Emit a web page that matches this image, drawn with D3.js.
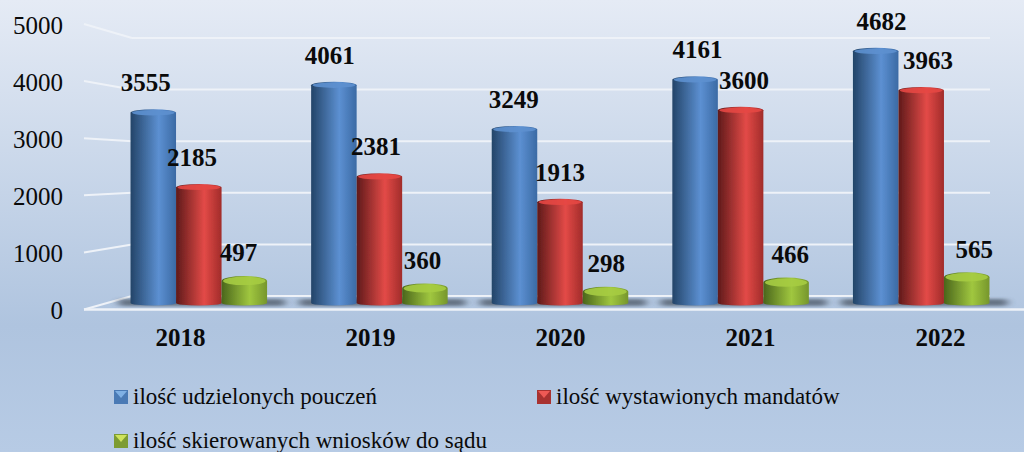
<!DOCTYPE html>
<html>
<head>
<meta charset="utf-8">
<script src="https://cdn.jsdelivr.net/npm/d3@7"></script>
<style>
  html, body { margin: 0; padding: 0; background: #b4c9e3; }
  svg { display: block; }
  text { font-family: "Liberation Serif", serif; fill: #0a0a0a; }
</style>
</head>
<body>
<svg width="1024" height="452"></svg>
<script>
const years = ["2018", "2019", "2020", "2021", "2022"];
const seriesNames = ["ilość udzielonych pouczeń", "ilość wystawionych mandatów", "ilość skierowanych wniosków do sądu"];
const pouczenia = [3555, 4061, 3249, 4161, 4682];
const mandaty = [2185, 2381, 1913, 3600, 3963];
const wnioski = [497, 360, 298, 466, 565];
const yTicks = [0, 1000, 2000, 3000, 4000, 5000];

const svg = d3.select("svg"),
    width = +svg.attr("width"),
    height = +svg.attr("height");

const seriesValues = [pouczenia, mandaty, wnioski];

// colours of the cylinders: edge, highlight, far edge, cap
const palette = [
  { dark: "#234468", light: "#5c90d2", edge: "#3b6aa4", cap: "#5d90cf", sw: "#4a7ab5", swTop: "#7fb0e4" },
  { dark: "#5e1a1a", light: "#e34a47", edge: "#a12c2a", cap: "#e54744", sw: "#a83230", swTop: "#ee5a55" },
  { dark: "#4a661c", light: "#a0c73f", edge: "#76962c", cap: "#a6cc42", sw: "#7d9c32", swTop: "#cfe35c" }
];

const defs = svg.append("defs");

const bg = defs.append("linearGradient").attr("id", "bg").attr("x1", 0).attr("y1", 0).attr("x2", 0).attr("y2", 1);
bg.append("stop").attr("offset", "0%").attr("stop-color", "#e5ebf5");
bg.append("stop").attr("offset", "72%").attr("stop-color", "#afc4df");
bg.append("stop").attr("offset", "100%").attr("stop-color", "#b7cbe5");

palette.forEach(function (p, i) {
  const g = defs.append("linearGradient").attr("id", "bar" + i);
  g.append("stop").attr("offset", "0%").attr("stop-color", p.dark);
  g.append("stop").attr("offset", "62%").attr("stop-color", p.light);
  g.append("stop").attr("offset", "100%").attr("stop-color", p.edge);
});

defs.append("filter").attr("id", "blur").attr("x", "-20%").attr("y", "-100%").attr("width", "140%").attr("height", "300%")
  .append("feGaussianBlur").attr("stdDeviation", "4 1.6");
defs.append("filter").attr("id", "soft").append("feGaussianBlur").attr("stdDeviation", 0.5);

svg.append("rect").attr("width", width).attr("height", height).attr("fill", "url(#bg)");

// scales: back wall, side wall and the bars sit at different depths
const yBack = d3.scaleLinear().domain([0, 5000]).range([296, 38]);
const ySide = d3.scaleLinear().domain([0, 5000]).range([309.5, 24]);
const yBar = d3.scaleLinear().domain([0, 5000]).range([303, 30.5]);

const x0 = d3.scaleBand().domain(years).range([108.5, 1011.5]).paddingInner(0.244).paddingOuter(0.122);
const x1 = d3.scaleBand().domain(d3.range(3)).range([0, x0.bandwidth()]);
const xLabel = d3.scalePoint().domain(years).range([180, 940]);

// walls
const sideX = 84, backX = 132, backEnd = 990;
const grid = svg.append("g").attr("stroke", "#eef2f8").attr("stroke-width", 2).attr("fill", "none");
grid.selectAll("line.back")
  .data(yTicks)
  .join("line")
    .attr("x1", backX).attr("x2", backEnd)
    .attr("y1", d => yBack(d)).attr("y2", d => yBack(d));
grid.selectAll("path.side")
  .data(yTicks)
  .join("path")
    .attr("class", "side")
    .attr("d", d => `M${sideX},${ySide(d)}L${backX},${yBack(d)}`);
// front edge of the floor
grid.append("line")
  .attr("x1", sideX).attr("x2", width)
  .attr("y1", ySide(0)).attr("y2", ySide(0))
  .attr("stroke-width", 2.4);

// y axis
const yAxis = svg.append("g")
  .attr("transform", "translate(63,1)")
  .call(d3.axisLeft(ySide).tickValues(yTicks).tickFormat(d3.format("d")).tickSize(0).tickPadding(0));
yAxis.select(".domain").remove();
yAxis.selectAll("text").style("font-size", "25px").attr("dy", "0.32em");

// x axis
const xAxis = svg.append("g")
  .attr("transform", "translate(0,326)")
  .call(d3.axisBottom(xLabel).tickSize(0).tickPadding(0));
xAxis.select(".domain").remove();
xAxis.selectAll("text").style("font-size", "25px").style("font-weight", "bold").attr("dy", "0.8em");

// shadows on the floor
svg.append("g").selectAll("rect")
  .data(years)
  .join("rect")
    .attr("x", d => x0(d) - 12)
    .attr("width", x0.bandwidth() + 30)
    .attr("y", yBar(0) - 4)
    .attr("height", 7)
    .attr("rx", 3)
    .attr("fill", "#39434f")
    .attr("opacity", 0.62)
    .attr("filter", "url(#blur)");

// flat list of bars
const bars = [];
years.forEach(function (year, i) {
  seriesValues.forEach(function (vals, s) {
    bars.push({ year: year, series: s, value: vals[i] });
  });
});

const barX = d => x0(d.year) + x1(d.series);
const barW = x1.bandwidth();
const capRy = d => d.series == 2 ? 5 : 3.5;

// body of a cylinder with a curved foot and curved top
function cylinder(d) {
  const x = barX(d), w = barW, top = yBar(d.value) + capRy(d), bot = yBar(0);
  return `M${x},${top}A${w / 2},${capRy(d)} 0 0 1 ${x + w},${top}L${x + w},${bot}A${w / 2},2.5 0 0 1 ${x},${bot}Z`;
}

const barGroup = svg.append("g").selectAll("g")
  .data(bars)
  .join("g")
    .attr("filter", "url(#soft)");

barGroup.append("path")
  .attr("d", cylinder)
  .attr("fill", d => `url(#bar${d.series})`);

barGroup.append("ellipse")
  .attr("cx", d => barX(d) + barW / 2)
  .attr("cy", d => yBar(d.value) + capRy(d))
  .attr("rx", barW / 2 - 1.5)
  .attr("ry", d => capRy(d) - 0.8)
  .attr("fill", d => palette[d.series].cap)
  .attr("opacity", 0.9);

// value labels drift outwards from the middle of the chart because of the 3d view
const labelLift = [18, 18, 14.5];
svg.append("g").selectAll("text")
  .data(bars)
  .join("text")
    .attr("x", function (d) {
      const c = barX(d) + barW / 2;
      return c + (c - 560) * 0.0185;
    })
    .attr("y", d => yBar(d.value) - labelLift[d.series])
    .attr("text-anchor", "middle")
    .style("font-size", "25px")
    .style("font-weight", "bold")
    .text(d => d.value);

// legend
const legendItems = [
  { x: 114, y: 403 },
  { x: 537, y: 403 },
  { x: 114, y: 447 }
];
const legend = svg.append("g").selectAll("g")
  .data(seriesNames)
  .join("g")
    .attr("transform", (d, i) => `translate(${legendItems[i].x},${legendItems[i].y})`);

legend.append("rect")
  .attr("x", 0).attr("y", -13).attr("width", 14).attr("height", 14)
  .attr("fill", (d, i) => palette[i].sw);
legend.append("path")
  .attr("d", "M1,-12L13,-12L7,-5Z")
  .attr("fill", (d, i) => palette[i].swTop);
legend.append("text")
  .attr("x", 19)
  .attr("y", 1)
  .style("font-size", "23px")
  .text(d => d);
</script>
</body>
</html>
